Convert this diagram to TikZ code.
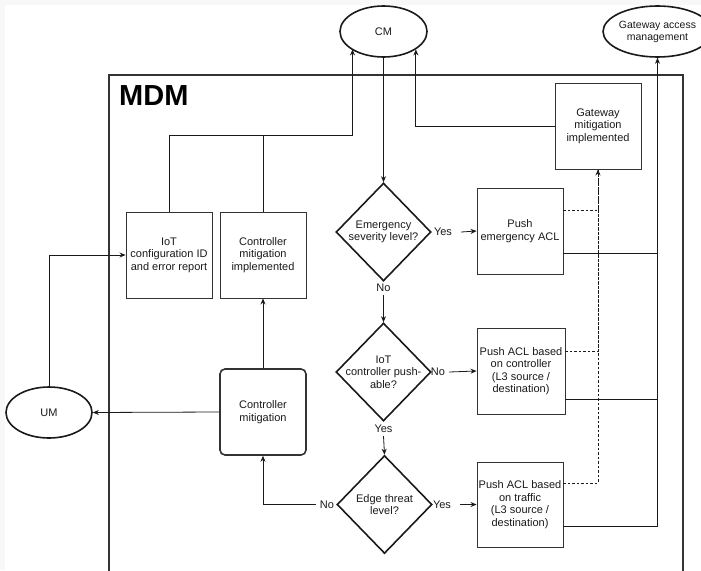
\documentclass[tikz,border=0pt]{standalone}
\usepackage{fontspec}
\setmainfont{Liberation Sans}
\usetikzlibrary{shapes.geometric,arrows.meta,calc}
\definecolor{ink}{HTML}{1A1A1A}
\definecolor{frame}{HTML}{333333}
\definecolor{bgg}{HTML}{F8F8F8}
\tikzset{
  every node/.style={font=\fontsize{11}{12.5}\selectfont, text=ink},
  arr/.style={-{Stealth[length=6pt,width=5pt]}, draw=ink, line width=0.8pt},
  ln/.style={draw=ink, line width=0.8pt},
  dsh/.style={draw=ink, line width=0.7pt, dash pattern=on 2.5pt off 2pt},
  box/.style={draw=frame, line width=0.9pt, minimum width=86pt, minimum height=86pt, align=center, inner sep=1pt},
  rbox/.style={box, rounded corners=5pt, line width=1.6pt},
  ell/.style={ellipse, draw=ink, line width=1.6pt, minimum width=86pt, minimum height=51pt, inner sep=0pt, align=center},
  dia/.style={diamond, draw=ink, line width=1.6pt, minimum width=95pt, minimum height=98pt, inner sep=0pt},
  dtxt/.style={align=center, inner sep=0pt},
  lab/.style={inner sep=1pt},
}
\begin{document}
\begin{tikzpicture}[x=1pt,y=-1pt]
\useasboundingbox (0,0) rectangle (701,570);
\fill[bgg] (0,0) rectangle (701,570);
\fill[white] (5,5) rectangle (701,570);
\begin{scope}
\clip (0,0) rectangle (701,570);
\draw[frame, line width=1.1pt] (109,75) rectangle (683,585);
\end{scope}
\node[anchor=west, inner sep=0pt, font=\fontsize{29}{30}\selectfont\bfseries, text=black] (mdm) at (119,96) {MDM};

% ellipses
\node[ell, minimum width=87pt] (cm) at (383.5,31.5) {CM};
\node[ell, minimum width=85pt, font=\fontsize{10.5}{12}\selectfont] (gam) at (657.5,31.5) {Gateway access\\management};
\node[ell] (um) at (49,412.5) {UM};

% boxes
\node[box] (iot) at (169,255) {IoT\\configuration ID\\and error report};
\node[box] (cmi) at (263,255) {Controller\\mitigation\\implemented};
\node[box] (gmi) at (598,126) {Gateway\\mitigation\\implemented};
\node[box] (pe) at (520,231) {Push\\emergency ACL};
\node[box, minimum width=88pt] (pc) at (521,371) {Push ACL based\\on controller\\(L3 source /\\destination)};
\node[box, minimum height=85pt] (pt) at (520,504.5) {Push ACL based\\on traffic\\(L3 source /\\destination)};
\node[rbox] (cmit) at (263,412) {Controller\\mitigation};

% diamonds
\node[dia] (d1) at (383.5,232) {};
\node[dtxt] (d1t) at (d1) {Emergency\\severity level?};
\node[dia] (d2) at (383.5,372) {};
\node[dtxt] (d2t) at (d2) {IoT\\controller push-\\able?};
\node[dia] (d3) at (384.5,504.5) {};
\node[dtxt] (d3t) at (d3) {Edge threat\\level?};

% labels
\node[lab] (y1) at (443,232) {Yes};
\node[lab] (n1) at (383.5,288) {No};
\node[lab] (n2) at (438,372) {No};
\node[lab] (y2) at (383.5,429) {Yes};
\node[lab] (n3) at (327,504.5) {No};
\node[lab] (y3) at (442,504.5) {Yes};

% flow connectors
\draw[arr] (cm) -- (d1);
\draw[arr] ([xshift=8pt]y1.east) -- (pe.west);
\draw[arr] ([yshift=-2pt]n1.south) -- (d2.north);
\draw[arr] ([xshift=3pt]n2.east) -- (pc.west);
\draw[arr] ([yshift=-2pt]y2.south) -- (d3.north);
\draw[arr] ([xshift=8pt]y3.east) -- (pt.west);
\draw[arr] ([xshift=-3pt]n3.west) -| (cmit.south);
\draw[arr] (cmit.north) -- (cmi.south);
\draw[arr] (cmit.west) -- (um.east);
\draw[arr] (um.north) |- (iot.west);

% to CM
\coordinate (j1) at (352.5,135);
\draw[arr] (iot.north) |- (j1) -- (j1 |- cm.209);
\draw[ln] (cmi.north) -- (cmi.north |- j1);
\draw[arr] (gmi.west) -| (cm.331);

% dashed to gateway mitigation
\draw[dsh] ([yshift=21pt]pe.east) -| (gmi.south);
\draw[dsh] ([yshift=20pt]pc.east) -| (gmi.south);
\draw[dsh, -{Stealth[length=6pt,width=5pt]}] ([yshift=21.5pt]pt.east) -| (gmi.south);

% solid to gateway access management
\draw[ln] ([yshift=-22pt]pe.east) -| (gam.south);
\draw[ln] ([yshift=-28pt]pc.east) -| (gam.south);
\draw[arr] ([yshift=-21.5pt]pt.east) -| (gam.south);
\end{tikzpicture}
\end{document}
